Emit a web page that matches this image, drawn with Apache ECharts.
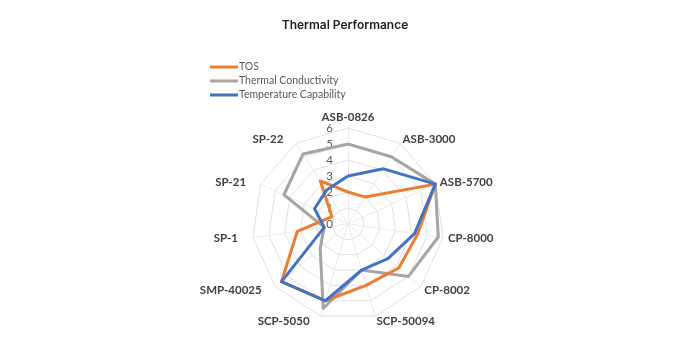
<!DOCTYPE html>
<html>
<head>
<meta charset="utf-8">
<script src="https://cdn.jsdelivr.net/npm/echarts@6/dist/echarts.min.js"></script>
<style>
html,body{margin:0;padding:0;background:#fff;}
#chart{width:690px;height:345px;}
</style>
</head>
<body>
<div id="chart"></div>
<script>
// Data (indicators in clockwise order starting at the top)
const indicators = ['ASB-0826','ASB-3000','ASB-5700','CP-8000','CP-8002','SCP-50094','SCP-5050','SMP-40025','SP-1','SP-21','SP-22'];
const tos        = [2.0, 2.0, 6.0, 4.4, 4.2, 4.0, 5.0, 5.5, 3.2, 1.1, 3.2];
const thermal    = [5.0, 5.0, 6.0, 5.7, 5.0, 3.0, 5.5, 2.3, 1.5, 4.4, 5.2];
const tempCap    = [3.0, 4.1, 6.0, 4.2, 3.3, 3.0, 5.0, 5.5, 1.5, 2.3, 2.5];
const seriesNames = ['TOS', 'Thermal Conductivity', 'Temperature Capability'];
const ringTicks = ['0','1','2','3','4','5','6'];
const maxValue = 6;
const leftSideNames = ['SCP-5050','SMP-40025','SP-1','SP-21','SP-22'];

// ECharts places radar indicators counter-clockwise; reorder to clockwise.
function cw(arr){ return [arr[0]].concat(arr.slice(1).reverse()); }

const chart = echarts.init(document.getElementById('chart'));
const colors = {'TOS':'#ED7D31','Thermal Conductivity':'#A5A5A5','Temperature Capability':'#4472C4'};
const values = {'TOS':tos,'Thermal Conductivity':thermal,'Temperature Capability':tempCap};
const drawOrder = ['Thermal Conductivity','TOS','Temperature Capability'];

chart.setOption({
  animation:false,
  title:{
    text:'Thermal Performance', left:'center', top:14,
    textStyle:{fontFamily:'Inter', fontWeight:600, fontSize:12, color:'#222'}
  },
  legend:{
    data:seriesNames, orient:'vertical', left:205, top:56,
    itemWidth:28, itemHeight:3, itemGap:2, icon:'rect',
    textStyle:{fontFamily:'Lato', fontSize:10.5, lineHeight:12, color:'#595959', padding:[0,0,0,-4]}
  },
  polar:{center:[348,224], radius:96},
  angleAxis:{show:false, min:0, max:360},
  radiusAxis:{
    min:0, max:maxValue, interval:1,
    axisLine:{show:false}, axisTick:{show:false}, splitLine:{show:false},
    axisLabel:{show:true, margin:15, fontFamily:'Lato', fontSize:11.5, color:'#595959',
      formatter:(v)=>ringTicks[Math.round(v)]}
  },
  radar:{
    center:[348,224], radius:96, shape:'polygon', splitNumber:6,
    startAngle:90, nameGap:5,
    indicator: cw(indicators).map(n=>({name:n, min:0, max:maxValue})),
    axisName:{fontFamily:'Lato', fontWeight:'bold', fontSize:11.5, color:'#404040',
      formatter:(n)=> leftSideNames.indexOf(n) >= 0 ? '{l|' + n + '}' : n,
      rich:{l:{fontFamily:'Lato', fontWeight:'bold', fontSize:11.5, color:'#404040', padding:[0,10,0,0]}}
    },
    splitLine:{lineStyle:{color:'#E0E0E0', width:1}},
    splitArea:{show:false},
    axisLine:{lineStyle:{color:'#EAEAEA'}}
  },
  series: drawOrder.map(n=>({
    type:'radar', name:n, symbol:'none', color:colors[n],
    lineStyle:{width:3, color:colors[n]},
    data:[{name:n, value:cw(values[n])}]
  }))
});
</script>
</body>
</html>
